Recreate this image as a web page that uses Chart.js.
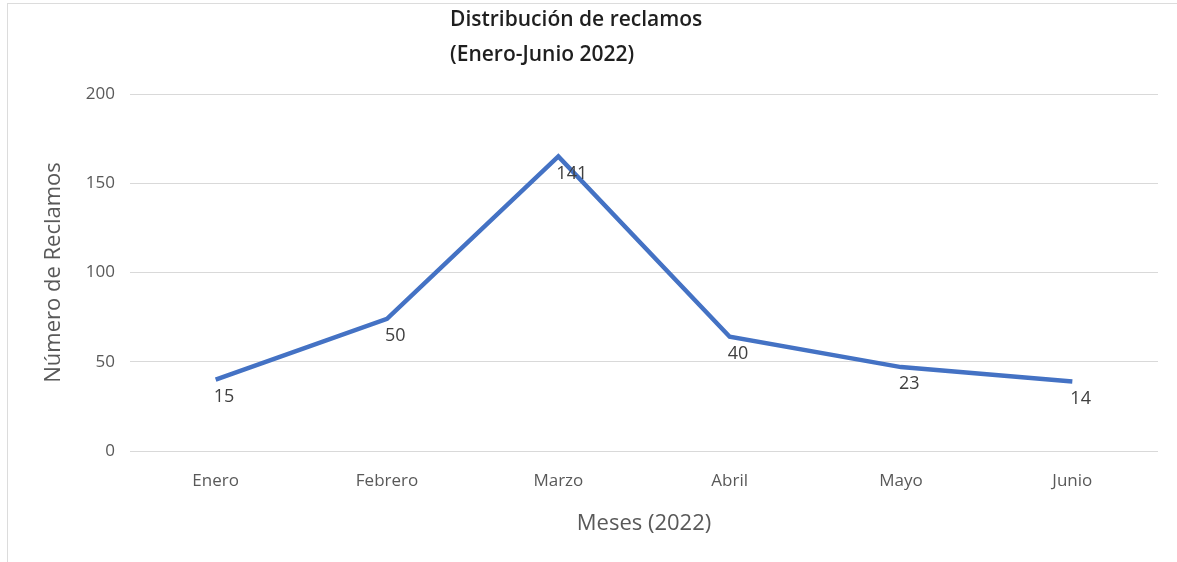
<!DOCTYPE html>
<html>
<head>
<meta charset="utf-8">
<script src="https://cdn.jsdelivr.net/npm/chart.js@4"></script>
<style>
  body { margin: 0; background: #fff; }
  #wrap { position: relative; width: 1177px; height: 562px; }
  #frame { position: absolute; left: 7px; top: 3px; right: 0; bottom: 0;
           border-left: 1px solid #dcdcdc; border-top: 1px solid #dcdcdc; pointer-events: none; }
</style>
</head>
<body>
<div id="wrap">
  <canvas id="myChart" width="1177" height="562"></canvas>
  <div id="frame"></div>
</div>
<script>
const months = ['Enero', 'Febrero', 'Marzo', 'Abril', 'Mayo', 'Junio']
// where the line sits on the axis
const linePositions = [40, 74, 165, 64, 47, 39]
// numbers printed next to each point
const claimLabels = [15, 50, 141, 40, 23, 14]
const yTicks = [0, 50, 100, 150, 200]
const titleLines = ['Distribución de reclamos', '(Enero-Junio 2022)']

const fontFamily = "'Open Sans', 'Noto Sans', sans-serif"

// left aligned two line title, like the original
const titlePlugin = {
  id: 'leftTitle',
  afterDraw(chart) {
    const c = chart.ctx
    c.save()
    c.fillStyle = '#1f1f1f'
    c.font = `600 21px ${fontFamily}`
    c.textAlign = 'left'
    c.textBaseline = 'middle'
    c.fillText(titleLines[0], 450, 20)
    c.fillText(titleLines[1], 450, 55)
    c.restore()
  }
}

const pointLabels = {
  id: 'pointLabels',
  afterDatasetsDraw(chart) {
    const c = chart.ctx
    const meta = chart.getDatasetMeta(0)
    c.save()
    c.fillStyle = '#404040'
    c.font = `18px ${fontFamily}`
    c.textAlign = 'left'
    c.textBaseline = 'middle'
    meta.data.forEach((pt, i) => {
      c.fillText(String(claimLabels[i]), pt.x - 2, pt.y + 17)
    })
    c.restore()
  }
}

const chartEle = document.getElementById('myChart')

new Chart(chartEle, {
  type: 'line',
  data: {
    labels: months,
    datasets: [{
      label: 'Reclamos',
      data: linePositions,
      borderColor: '#4472C4',
      borderWidth: 4.5,
      pointRadius: 0,
      tension: 0,
      borderCapStyle: 'butt'
    }]
  },
  options: {
    responsive: false,
    animation: false,
    layout: { padding: { left: 0, right: 19, top: 94, bottom: 0 } },
    plugins: {
      legend: { display: false },
      tooltip: { enabled: false }
    },
    scales: {
      x: {
        offset: true,
        grid: { display: false, drawTicks: false, offset: true },
        border: { display: false },
        ticks: { color: '#595959', font: { family: fontFamily, size: 17 }, padding: 20 },
        title: {
          display: true, text: 'Meses (2022)', color: '#595959',
          font: { family: fontFamily, size: 22 }, padding: { top: 0, bottom: 25 }
        },
        afterFit(scale) { scale.height = 111 }
      },
      y: {
        min: 0, max: 200,
        afterBuildTicks(scale) { scale.ticks = yTicks.map(v => ({ value: v })) },
        grid: { color: '#d9d9d9', lineWidth: 1, drawTicks: false },
        border: { display: false },
        ticks: { color: '#595959', font: { family: fontFamily, size: 17 }, padding: 15 },
        title: {
          display: true, text: 'Número de Reclamos', color: '#595959',
          font: { family: fontFamily, size: 22 }, padding: { top: 41, bottom: 0 }
        },
        afterFit(scale) { scale.width = 130 }
      }
    }
  },
  plugins: [titlePlugin, pointLabels]
})
</script>
</body>
</html>
